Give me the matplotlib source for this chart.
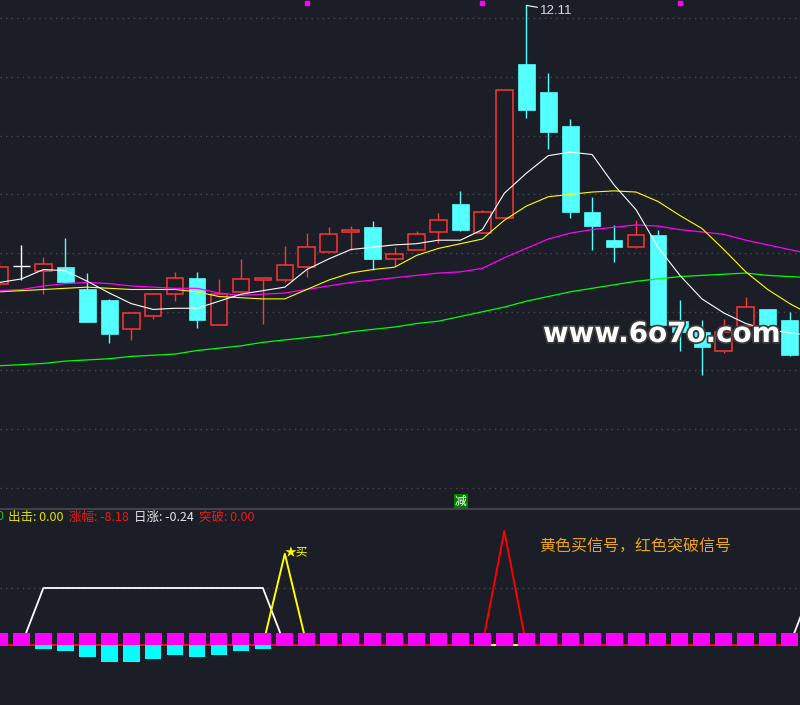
# ---- K-line chart with MA lines and a signal sub pane ---- #

import matplotlib
matplotlib.use('Agg')
import matplotlib.pyplot as plt
import matplotlib.patheffects as pe
from matplotlib.lines import Line2D

# -------------------------------- #
# ------------- Data ------------- #
# -------------------------------- #

opens = [9.74, 9.89, 9.85, 9.88, 9.69, 9.60, 9.35, 9.46, 9.65, 9.79,
         9.39, 9.67, 9.77, 9.77, 9.88, 10.01, 10.18, 10.22, 9.95, 10.03,
         10.18, 10.42, 10.17, 10.30, 11.61, 11.37, 11.08, 10.35, 10.11, 10.05,
         10.15, 9.42, 9.33, 9.17, 9.38, 9.52, 9.43]
highs = [9.92, 10.07, 9.97, 10.13, 9.83, 9.61, 9.49, 9.66, 9.84, 9.84,
         9.78, 9.95, 9.79, 10.06, 10.17, 10.22, 10.23, 10.27, 10.05, 10.19,
         10.34, 10.53, 10.37, 11.39, 12.11, 11.53, 11.14, 10.48, 10.24, 10.28,
         10.20, 9.60, 9.43, 9.44, 9.63, 9.52, 9.50]
lows = [9.71, 9.77, 9.65, 9.75, 9.41, 9.23, 9.26, 9.44, 9.59, 9.36,
        9.39, 9.67, 9.40, 9.75, 9.80, 10.01, 10.03, 9.86, 9.89, 10.03,
        10.09, 10.19, 10.17, 10.30, 11.15, 10.89, 10.30, 10.03, 9.92, 10.04,
        9.39, 9.17, 8.96, 9.15, 9.33, 9.38, 9.12]
closes = [9.88, 9.89, 9.91, 9.75, 9.41, 9.31, 9.49, 9.65, 9.79, 9.43,
          9.65, 9.78, 9.79, 9.90, 10.05, 10.16, 10.20, 9.95, 9.99, 10.16,
          10.28, 10.20, 10.35, 11.39, 11.22, 11.03, 10.35, 10.23, 10.05, 10.15,
          9.39, 9.33, 9.20, 9.33, 9.54, 9.39, 9.13]

# moving averages (one more point than candles, runs off the right edge)
ma5 = [9.75, 9.78, 9.86, 9.85, 9.76, 9.66, 9.57, 9.52, 9.53, 9.53,
       9.59, 9.65, 9.68, 9.71, 9.86, 9.95, 10.03, 10.05, 10.07, 10.08,
       10.11, 10.11, 10.20, 10.51, 10.68, 10.83, 10.86, 10.84, 10.58, 10.37,
       10.05, 9.81, 9.61, 9.49, 9.40, 9.35, 9.32, 9.30]
ma10 = [9.67, 9.68, 9.69, 9.70, 9.71, 9.70, 9.69, 9.69, 9.69, 9.67,
        9.63, 9.62, 9.61, 9.61, 9.69, 9.77, 9.83, 9.86, 9.88, 9.98,
        10.04, 10.08, 10.12, 10.28, 10.40, 10.48, 10.50, 10.52, 10.53, 10.52,
        10.44, 10.32, 10.21, 10.03, 9.84, 9.69, 9.57, 9.47]
ma20 = [9.68, 9.69, 9.72, 9.74, 9.75, 9.74, 9.72, 9.71, 9.70, 9.70,
        9.66, 9.64, 9.65, 9.66, 9.69, 9.72, 9.75, 9.77, 9.79, 9.81,
        9.83, 9.84, 9.87, 9.96, 10.04, 10.12, 10.17, 10.20, 10.22, 10.24,
        10.23, 10.20, 10.18, 10.16, 10.11, 10.07, 10.03, 9.99]
ma60 = [9.04, 9.05, 9.06, 9.08, 9.09, 9.10, 9.12, 9.13, 9.14, 9.17,
        9.19, 9.21, 9.24, 9.26, 9.28, 9.30, 9.33, 9.35, 9.37, 9.40,
        9.42, 9.46, 9.50, 9.54, 9.59, 9.63, 9.67, 9.70, 9.73, 9.76,
        9.78, 9.80, 9.81, 9.82, 9.83, 9.81, 9.80, 9.79]

grid_prices = [8.0, 8.5, 9.0, 9.5, 10.0, 10.5, 11.0, 11.5, 12.0]
top_marks = [14, 22, 31]
top_mark_price = 12.13
high_label = "12.11"
high_index = 24

# sub pane
sig_white = [0, 0, 1, 1, 1, 1, 1, 1, 1, 1, 1, 1, 1, 0, 0, 0, 0, 0, 0, 0,
             0, 0, 0, 0, 0, 0, 0, 0, 0, 0, 0, 0, 0, 0, 0, 0, 0, 1]
sig_yellow = [0] * 13 + [1.6] + [0] * 23
sig_red = [0] * 23 + [2.0] + [0] * 13
pink_top = [0.205] * 37
cyan_vals = [0, 0, -0.065, -0.10, -0.205, -0.29, -0.29, -0.24, -0.17, -0.205,
             -0.17, -0.10, -0.065] + [0] * 24

info_labels = ["出击: 0.00", "涨幅: -8.18", "日涨: -0.24", "突破: 0.00"]
info_colors = ['#e0e000', '#e81c1c', '#e6e6e6', '#e81c1c']
info_x = [8, 69, 134, 199]

# -------------------------------- #
# ------------ Styles ------------ #
# -------------------------------- #

bg = '#1b1e26'
up_col = '#ff3434'
down_col = '#54ffff'
grid_col = '#454951'
cjk = ['Noto Sans CJK SC', 'DejaVu Sans']
plt.rcParams['font.family'] = cjk

fig = plt.figure(figsize=(8, 7.05), dpi=100)
fig.patch.set_facecolor(bg)

ax = fig.add_axes([0, 196 / 705, 1, 509 / 705])
ax2 = fig.add_axes([0, 0, 1, 196 / 705])
for a in (ax, ax2):
    a.set_xlim(0.023, 36.47)
    a.axis('off')

ax.set_ylim(7.82, 12.156)
ax2.set_ylim(-1.053, 2.386)

# -------------------------------- #
# ---------- Main pane ----------- #
# -------------------------------- #

for p in grid_prices:
    ax.axhline(p, color=grid_col, lw=1, ls=(0, (1, 3)), zorder=0)

w = 0.76
for i in range(len(opens)):
    o, h, l, c = opens[i], highs[i], lows[i], closes[i]
    top = max(o, c)
    bot = min(o, c)
    if c > o:
        ax.vlines(i, top, h, color=up_col, lw=1, zorder=2)
        ax.vlines(i, l, bot, color=up_col, lw=1, zorder=2)
        ax.bar(i, top - bot, width=w, bottom=bot, facecolor=bg,
               edgecolor=up_col, lw=1.1, zorder=2)
    elif c < o:
        ax.vlines(i, l, h, color=down_col, lw=1, zorder=2)
        ax.bar(i, top - bot, width=w, bottom=bot, facecolor=down_col,
               edgecolor=down_col, lw=0.5, zorder=2)
    else:
        ax.vlines(i, l, h, color='white', lw=1, zorder=2)
        ax.hlines(c, i - w / 2, i + w / 2, color='white', lw=1, zorder=2)

xs = list(range(len(ma5)))
ax.plot(xs, ma60, color='#00ff00', lw=0.9, zorder=3)
ax.plot(xs, ma20, color='#ff00ff', lw=0.9, zorder=3)
ax.plot(xs, ma10, color='#ffff00', lw=0.8, zorder=3)
ax.plot(xs, ma5, color='#ffffff', lw=0.8, zorder=3)

ax.scatter(top_marks, [top_mark_price] * len(top_marks), marker='s', s=5,
           color='#ff00ff', zorder=4)

ax.annotate(high_label, xy=(high_index, highs[high_index]), xytext=(10, -3.8),
            textcoords='offset points', ha='left', va='center',
            color='#d4dbe4', fontsize=9.5, family='Liberation Sans',
            arrowprops=dict(arrowstyle='-', color='white', lw=0.8,
                            shrinkA=0, shrinkB=0), zorder=5)

ax.text(21.01, 7.883, "减", color='white', fontsize=8.5, ha='center',
        va='center', zorder=5,
        bbox=dict(boxstyle='square,pad=0.1', facecolor='#008000',
                  edgecolor='none'))

# watermark
ax.text(24.76, 9.243, "www.6o7o.com", color='white', fontsize=20,
        family='DejaVu Sans', weight='bold', ha='left', va='baseline',
        zorder=6,
        path_effects=[pe.withStroke(linewidth=2.5, foreground='#3c3c3c')])

# -------------------------------- #
# ----------- Sub pane ----------- #
# -------------------------------- #

fig.add_artist(Line2D([0, 1], [196 / 705, 196 / 705], color='#44474f', lw=1.3))
ax2.axhline(1.0, color=grid_col, lw=1, ls=(0, (1, 3)), zorder=0)

n = len(sig_yellow)
ax2.plot(range(len(sig_white)), sig_white, color='white', lw=1.3, zorder=2)
ax2.plot(range(n), sig_yellow, color='#ffff00', lw=1.4, zorder=3)
ax2.plot(range(n), sig_red, color='#ff0000', lw=1.4, zorder=4)

ax2.bar(range(n), [v + 0.012 for v in pink_top], width=0.775, bottom=-0.012,
        color='#ff00ff', zorder=5)
ax2.bar(range(n), cyan_vals, width=0.76, bottom=0, color='#00ffff', zorder=5)

ax2.text(13.0, 1.61, "★买", color='#ffff00', fontsize=8.5, ha='left',
         va='center', family=cjk, zorder=6)
ax2.text(24.58, 1.72, "黄色买信号，红色突破信号", color='#e8a41c',
         fontsize=11.5, ha='left', va='center', zorder=6)

# status row; the leading "0" is cut at the left edge as in the source view
ty = 1 - 517 / 705
fig.text(3.5 / 800, ty, "0", color='#20c020', fontsize=9, ha='right',
         va='center')
for label, col, x in zip(info_labels, info_colors, info_x):
    fig.text(x / 800, ty, label, color=col, fontsize=9, ha='left', va='center')

fig.savefig('out.png', dpi=100, facecolor=bg)
